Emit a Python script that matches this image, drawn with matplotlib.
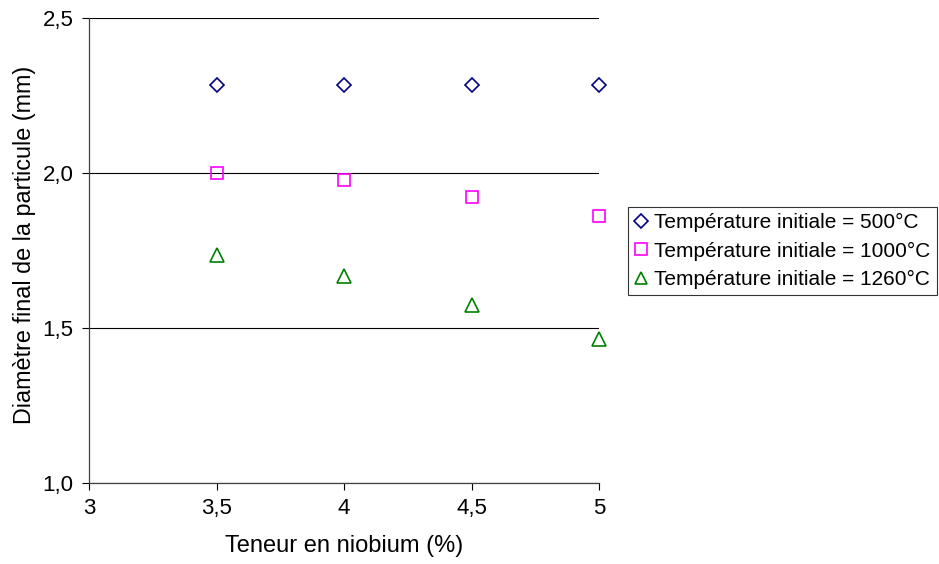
import numpy as np
import matplotlib
matplotlib.use('Agg')
import matplotlib.pyplot as plt
from matplotlib.ticker import FuncFormatter

plt.rcParams['font.family'] = ['Liberation Sans', 'DejaVu Sans']

niobium = [3.5, 4.0, 4.5, 5.0]
d_500 = [2.284, 2.284, 2.284, 2.284]
d_1000 = [2.0, 1.977, 1.923, 1.861]
d_1260 = [1.735, 1.668, 1.574, 1.465]
labels = ['Température initiale = 500°C',
          'Température initiale = 1000°C',
          'Température initiale = 1260°C']

fig = plt.figure(figsize=(9.39, 5.64), dpi=100)
ax = fig.add_axes([89 / 939, 81 / 564, 510 / 939, 465 / 564])

ax.plot(niobium, d_500, linestyle='none', marker='D', ms=7.5, mfc='none',
        mec='#000080', mew=1.2, label=labels[0], clip_on=False)
ax.plot(niobium, d_1000, linestyle='none', marker='s', ms=9, mfc='none',
        mec='#FF00FF', mew=1.2, label=labels[1], clip_on=False)
ax.plot(niobium, d_1260, linestyle='none', marker='^', ms=10, mfc='none',
        mec='#008000', mew=1.2, label=labels[2], clip_on=False)

ax.set_xlim(3, 5)
ax.set_ylim(1.0, 2.5)
ax.set_xticks([3, 3.5, 4, 4.5, 5])
ax.set_yticks([1.0, 1.5, 2.0, 2.5])
ax.xaxis.set_major_formatter(FuncFormatter(lambda v, p: ('%g' % v).replace('.', ',')))
ax.yaxis.set_major_formatter(FuncFormatter(lambda v, p: ('%.1f' % v).replace('.', ',')))
ax.grid(axis='y', color='black', linewidth=0.8)
ax.set_axisbelow(True)
for s in ['top', 'right']:
    ax.spines[s].set_visible(False)
for s in ['left', 'bottom']:
    ax.spines[s].set_color('#404040')
    ax.spines[s].set_linewidth(0.9)
ax.tick_params(direction='out', length=5, width=0.8, labelsize=16)
ax.tick_params(axis='x', pad=6)
ax.tick_params(axis='y', pad=6)

ax.set_xlabel('Teneur en niobium (%)', fontsize=17, labelpad=11)
ax.set_ylabel('Diamètre final de la particule (mm)', fontsize=16.8)
ax.yaxis.set_label_coords(-53 / 510, (483 - 245) / 465)

leg = ax.legend(loc='center left', bbox_to_anchor=(628 / 939, (564 - 251) / 564),
                bbox_transform=fig.transFigure, fontsize=15, frameon=True,
                fancybox=False, edgecolor='black', handlelength=0.6,
                handletextpad=0.35, borderpad=0.3, labelspacing=0.45,
                borderaxespad=0, markerscale=0.9)
leg.get_frame().set_linewidth(0.8)

fig.savefig('out.png', dpi=100)
